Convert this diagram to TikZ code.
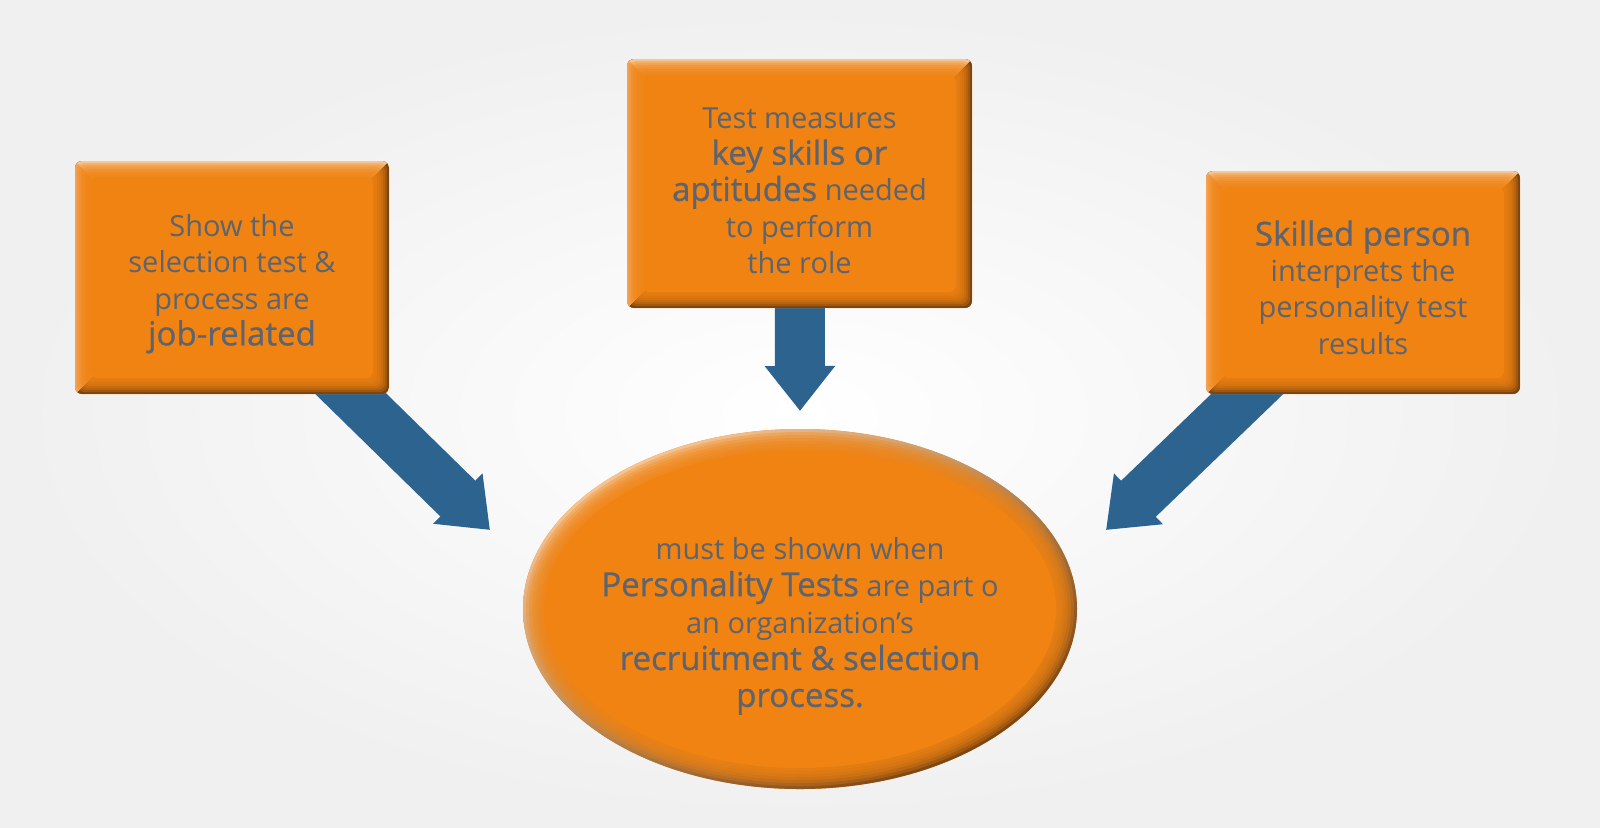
\documentclass[tikz,border=0pt]{standalone}
\usepackage{fontspec}
\setmainfont{Open Sans}
\newfontfamily\keyfont{Open Sans}[FakeBold=0.8]
\usetikzlibrary{positioning,arrows.meta,shapes.geometric,calc,backgrounds}

\definecolor{cardorange}{RGB}{240,131,18}
\definecolor{cardpeach}{RGB}{248,198,148}
\definecolor{cardlight}{RGB}{244,162,82}
\definecolor{carddark}{RGB}{124,68,14}
\definecolor{flowblue}{RGB}{45,99,143}
\definecolor{inkgray}{RGB}{91,100,112}

\newcommand{\keyw}[1]{{\keyfont\fontsize{9.4}{10.3}\selectfont #1}}
\newcommand{\lift}{\rule{0pt}{0.35cm}}

\begin{document}
\begin{tikzpicture}[
  bevel/.style={path picture={
    \coordinate (pa) at (path picture bounding box.south west);
    \coordinate (pb) at (path picture bounding box.north east);
    \fill[carddark, sharp corners] (pa) rectangle (pb);
    \fill[cardpeach, sharp corners] (pa) -- ++(#1,#1) -- ($(pb)-(#1,#1)$) -- (pb) -- (pa|-pb) -- cycle;
    \fill[cardlight, sharp corners] (pa) -- ++(#1,#1) -- ($(pa|-pb)+(#1,-#1)$) -- (pa|-pb) -- cycle;
    \foreach \ins in {0.02,0.04,...,0.14}
      \fill[cardorange, fill opacity=0.3] ($(pa)+(\ins,\ins)$) rectangle ($(pb)-(\ins,\ins)$);
    \fill[cardorange] ($(pa)+(#1,#1)$) rectangle ($(pb)-(#1,#1)$);
  }},
  card/.style={rectangle, rounded corners=0.07cm, fill=cardorange, bevel=0.16,
               text=inkgray, align=center, inner sep=0pt,
               font=\fontsize{8.25}{10.3}\selectfont},
  oval/.style={ellipse, fill=cardorange, inner sep=0pt,
               minimum width=5.54cm, minimum height=3.6cm,
               path picture={
    \shade[top color=cardpeach, middle color=cardorange, bottom color=carddark, shading angle=30]
      (path picture bounding box.south west) rectangle (path picture bounding box.north east);
    \foreach \ins in {0.03,0.06,...,0.18}
      \fill[cardorange, fill opacity=0.3] (path picture bounding box.center)
        ellipse [x radius={2.77-\ins}, y radius={1.8-\ins}];
    \fill[cardorange] (path picture bounding box.center) ellipse [x radius=2.56, y radius=1.59];
  }},
  ovaltext/.style={text=inkgray, align=center, font=\fontsize{8.25}{10.5}\selectfont},
  flow/.style={line width=0.5cm, flowblue, -{Triangle[length=0pt 0.9, width=0pt 1.35]}},
]
\useasboundingbox (0,0) rectangle (16,8.27);
\begin{scope}[on background layer]
  \shade[inner color=white, outer color=black!6] (0,0) rectangle (16,8.27);
\end{scope}

\node[card, minimum width=3.14cm, minimum height=2.33cm] (job) at (2.32,5.495)
  {\lift Show the\\selection test \&\\process are\\\keyw{job-related}};
\node[card, minimum width=3.45cm, minimum height=2.49cm] (skill) at (7.995,6.435)
  {\lift Test measures\\\keyw{key skills or}\\\keyw{aptitudes} needed\\to perform\\the role};
\node[card, minimum width=3.14cm, minimum height=2.23cm] (expert) at (13.63,5.445)
  {\lift\keyw{Skilled person}\\interprets the\\personality test\\results};

\node[oval] (ell) at (8.00,2.18) {};
\node[ovaltext] (ellText) at ([yshift=-0.17cm]ell.center)
  {must be shown when\\\keyw{Personality Tests} are part o\\an organization’s\\\keyw{recruitment \& selection}\\\keyw{process.}};

\coordinate (tipL) at (4.90,2.97);
\coordinate (tipM) at (8.00,4.16);
\coordinate (tipR) at (11.06,2.97);

\begin{scope}[on background layer]
  \draw[flow] (job.center) -- (tipL);
  \draw[flow] (skill.center) -- (tipM);
  \draw[flow] (expert.center) -- (tipR);
\end{scope}
\end{tikzpicture}
\end{document}
